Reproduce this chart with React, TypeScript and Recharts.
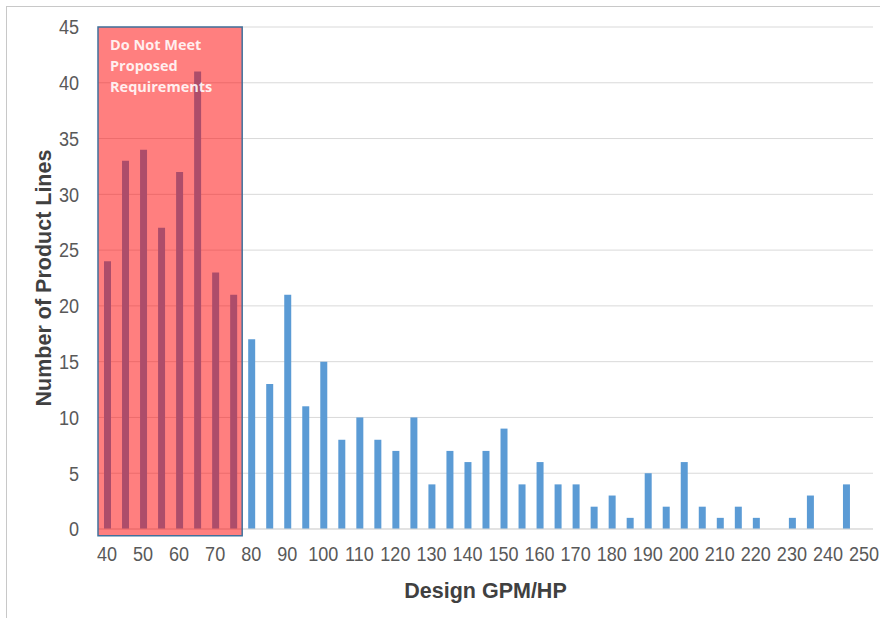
import { ReactElement } from 'react'
import {
  Bar,
  BarChart,
  CartesianGrid,
  Label,
  ReferenceArea,
  XAxis,
  YAxis,
} from 'recharts'

const gpmBins = [
  '40', '45', '50', '55', '60', '65', '70', '75', '80', '85', '90', '95',
  '100', '105', '110', '115', '120', '125', '130', '135', '140', '145',
  '150', '155', '160', '165', '170', '175', '180', '185', '190', '195',
  '200', '205', '210', '215', '220', '225', '230', '235', '240', '245', '250',
]
const productLines = [
  24, 33, 34, 27, 32, 41, 23, 21, 17, 13, 21, 11,
  15, 8, 10, 8, 7, 10, 4, 7, 6, 7,
  9, 4, 6, 4, 4, 2, 3, 1, 5, 2,
  6, 2, 1, 2, 1, 0, 1, 3, 0, 4, 0,
]
const yTicks = [0, 5, 10, 15, 20, 25, 30, 35, 40, 45]
const noteLines = ['Do Not Meet', 'Proposed', 'Requirements']

const data = gpmBins.map((bin, i) => ({ bin, count: productLines[i] }))

const fontStack = '"Liberation Sans Narrow", "Arial Narrow", "Liberation Sans", sans-serif'
const titleFont = {
  fontFamily: fontStack,
  fontSize: 21.5,
  fontWeight: 'bold' as const,
  fill: '#404040',
}

// Excel's narrow tick font: squeeze the regular face horizontally
function NarrowTick(props: any): ReactElement {
  const { x, y, payload, textAnchor, verticalAnchor } = props
  const dy = verticalAnchor === 'start' ? '0.71em' : '0.355em'
  return (
    <text
      transform={`translate(${x},${y}) scale(0.88,1)`}
      textAnchor={textAnchor}
      dy={dy}
      fontFamily={fontStack}
      fontSize={20.5}
      fill="#595959"
    >
      {payload.value}
    </text>
  )
}

function NoteLabel(props: any): ReactElement {
  const { viewBox } = props
  return (
    <text
      fill="#ffffff"
      fillOpacity={0.88}
      fontFamily='"Open Sans", sans-serif'
      fontWeight="bold"
      fontSize={14.5}
    >
      {noteLines.map((line, i) => (
        <tspan key={line} x={viewBox.x + 12} y={viewBox.y + 23 + i * 21}>
          {line}
        </tspan>
      ))}
    </text>
  )
}

export default function App(): ReactElement {
  return (
    <div style={{ position: 'absolute', left: 0, top: 0, width: 880, height: 618, background: '#fff' }}>
      <div
        style={{
          position: 'absolute',
          left: 6,
          top: 6,
          width: 880,
          height: 618,
          borderTop: '1px solid #c8c8c8',
          borderLeft: '1px solid #c8c8c8',
        }}
      />
      <BarChart
        width={880}
        height={618}
        data={data}
        margin={{ top: 27, right: 7, bottom: 0, left: 0 }}
        barSize={7}
      >
        <CartesianGrid vertical={false} stroke="#d9d9d9" />
        <XAxis
          dataKey="bin"
          interval={1}
          height={89}
          tickSize={0}
          tickMargin={17}
          tick={<NarrowTick />}
          axisLine={{ stroke: '#d9d9d9' }}
          tickLine={false}
        >
          <Label value="Design GPM/HP" position="insideBottom" offset={20} style={titleFont} />
        </XAxis>
        <YAxis
          domain={[0, 45]}
          ticks={yTicks}
          width={98}
          tickSize={0}
          tickMargin={19}
          tick={<NarrowTick />}
          axisLine={false}
          tickLine={false}
        >
          <Label
            value="Number of Product Lines"
            angle={-90}
            position="center"
            dx={-6}
            style={titleFont}
          />
        </YAxis>
        <Bar dataKey="count" fill="#5b9bd5" isAnimationActive={false} />
        <ReferenceArea
          x1="40"
          x2="75"
          y1={-0.6}
          y2={45}
          ifOverflow="visible"
          fill="#ff0000"
          fillOpacity={0.5}
          stroke="#41719c"
          strokeWidth={1.5}
          zIndex={600}
          label={<NoteLabel />}
        />
      </BarChart>
    </div>
  )
}
